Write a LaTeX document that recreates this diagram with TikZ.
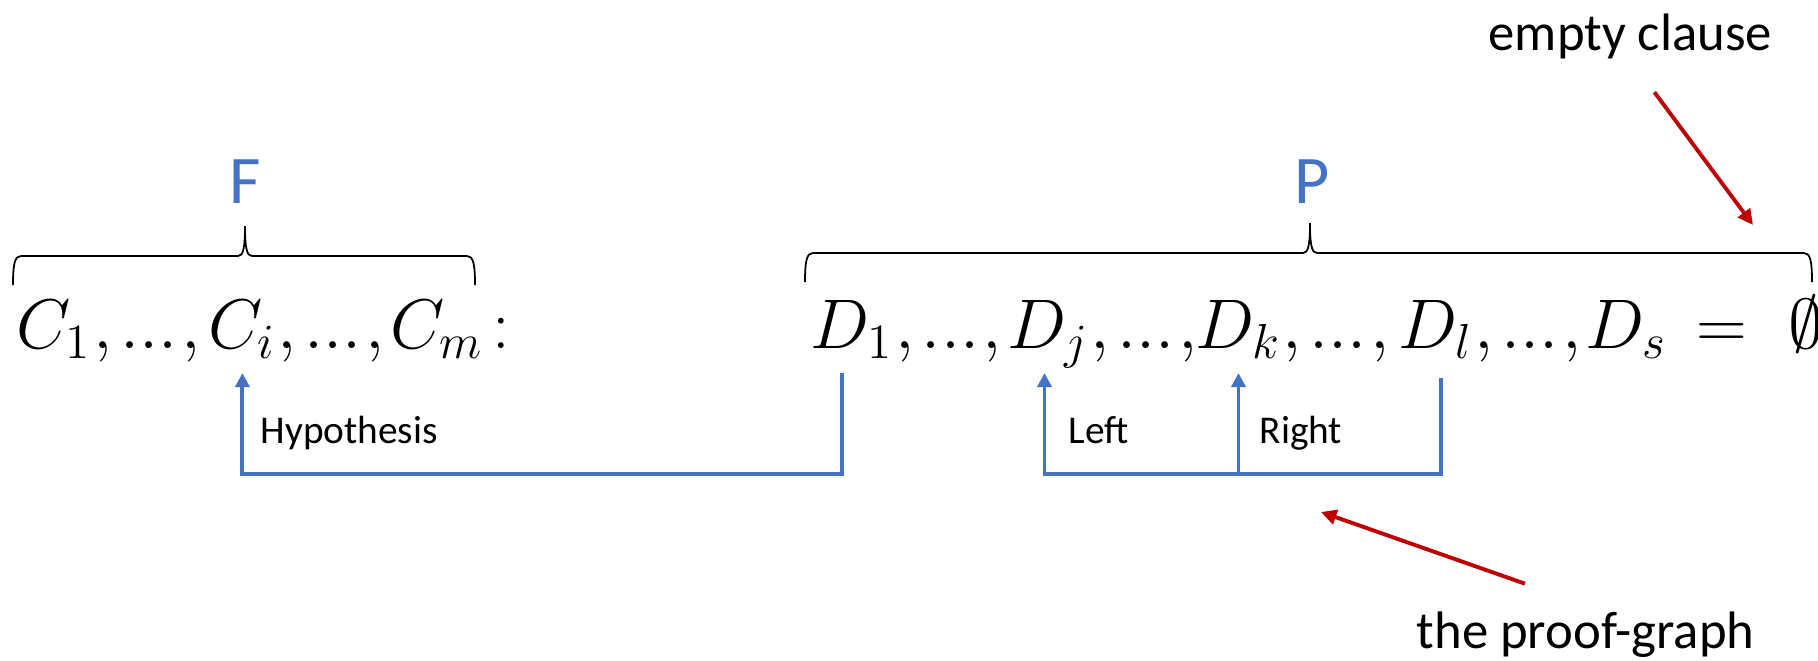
\documentclass[tikz,border=0pt]{standalone}
\usepackage{fix-cm}
\usepackage{amsmath}
\usepackage[no-math]{fontspec}
\newfontfamily\calibri{Carlito}
\usepackage{tikz}
\usetikzlibrary{positioning,arrows.meta}
\definecolor{clblue}{HTML}{4472C4}
\definecolor{clred}{HTML}{C00000}
\newcommand{\dotsep}{${,}\mkern2mu{.}{.}{.}\mkern1mu{,}$}
% #1 left x, #2 tip x, #3 right x, #4 bottom y
\newcommand{\clausebrace}[4]{%
  \draw[brace] (#1,#4) .. controls (#1,#4+0.22) and (#1+0.02,#4+0.29) .. (#1+0.08,#4+0.29)
    -- (#2-0.07,#4+0.29) .. controls (#2-0.02,#4+0.29) and (#2,#4+0.36) .. (#2,#4+0.59)
    .. controls (#2,#4+0.36) and (#2+0.02,#4+0.29) .. (#2+0.07,#4+0.29)
    -- (#3-0.08,#4+0.29) .. controls (#3-0.02,#4+0.29) and (#3,#4+0.22) .. (#3,#4);}

\begin{document}
\begin{tikzpicture}[
    term/.style={font=\fontsize{20}{24}\selectfont,inner sep=0pt,anchor=base west},
    setname/.style={font=\calibri\fontsize{19.4}{23}\selectfont,text=clblue,inner sep=0pt},
    lbl/.style={font=\calibri\fontsize{11.2}{13}\selectfont,inner sep=0pt,anchor=base west},
    note/.style={font=\calibri\fontsize{15}{18}\selectfont,inner sep=0pt,anchor=base west},
    brace/.style={line width=0.5pt},
    flow/.style={draw=clblue,line width=1.1pt},
    tip/.style={-{Triangle[length=4pt,width=4pt]}},
    pointer/.style={draw=clred,line width=1.1pt,-{Triangle[length=4.4pt,width=4.2pt]}}
]
\useasboundingbox (0,0) rectangle (18.18,6.60);

% the formula F
\node[term] (cone) at (0.16,3.12) {$C_1$};
\node[term] (ci) at (2.08,3.12) {$C_i$};
\node[term] (cm) at (3.90,3.12) {$C_m$};
\node[term,base right=2pt of cm] (colon) {$:$};
\node[term,base right=0pt of cone] (sa) {\dotsep};
\node[term,base right=0pt of ci] (sb) {\dotsep};

% the proof P
\node[term] (done) at (8.10,3.12) {$D_1$};
\node[term] (dj) at (10.07,3.12) {$D_j$};
\node[term] (dk) at (11.95,3.12) {$D_k$};
\node[term] (dl) at (13.98,3.12) {$D_l$};
\node[term] (ds) at (15.85,3.12) {$D_s$};
\node[term,anchor=base] (eq) at (17.22,3.12) {$=$};
\node[term,anchor=base east] (empty) at (18.24,3.12) {$\emptyset$};
\node[term,base right=0pt of done] (sc) {\dotsep};
\node[term,base right=0pt of dj] (sd) {\dotsep};
\node[term,base right=0pt of dk] (se) {\dotsep};
\node[term,base right=0pt of dl] (sf) {\dotsep};

\clausebrace{0.13}{2.45}{4.75}{3.75}
\clausebrace{8.05}{13.10}{18.12}{3.78}
\node[setname] (F) at (2.45,4.78) {F};
\node[setname] (P) at (13.12,4.78) {P};

\draw[flow,tip] ([xshift=-1mm,yshift=-2.5mm]done.base) -- ([xshift=-1mm,yshift=-12.6mm]done.base) -| ([yshift=-2.5mm]ci.base);
\draw[flow,tip] ([xshift=0.5mm,yshift=-3mm]dl.base) -- ([xshift=0.5mm,yshift=-12.6mm]dl.base) -| ([xshift=-0.4mm,yshift=-2.5mm]dj.base);
\draw[flow,tip] ([yshift=-12.6mm]dk.base) -- ([yshift=-2.5mm]dk.base);

\node[lbl] (hyp) at (2.60,2.17) {Hypothesis};
\node[lbl] (left) at (10.68,2.17) {Left};
\node[lbl] (right) at (12.59,2.17) {Right};

\node[note] (clause) at (14.88,6.10) {empty clause};
\node[note] (graph) at (14.16,0.12) {the proof-graph};
\coordinate (emptytip) at (17.53,4.35);
\coordinate (graphtip) at (13.21,1.48);
\draw[pointer] ([shift={(0.24,-0.33)}]clause.south) -- (emptytip);
\draw[pointer] ([shift={(1.09,0.27)}]graph.north west) -- (graphtip);
\end{tikzpicture}
\end{document}
